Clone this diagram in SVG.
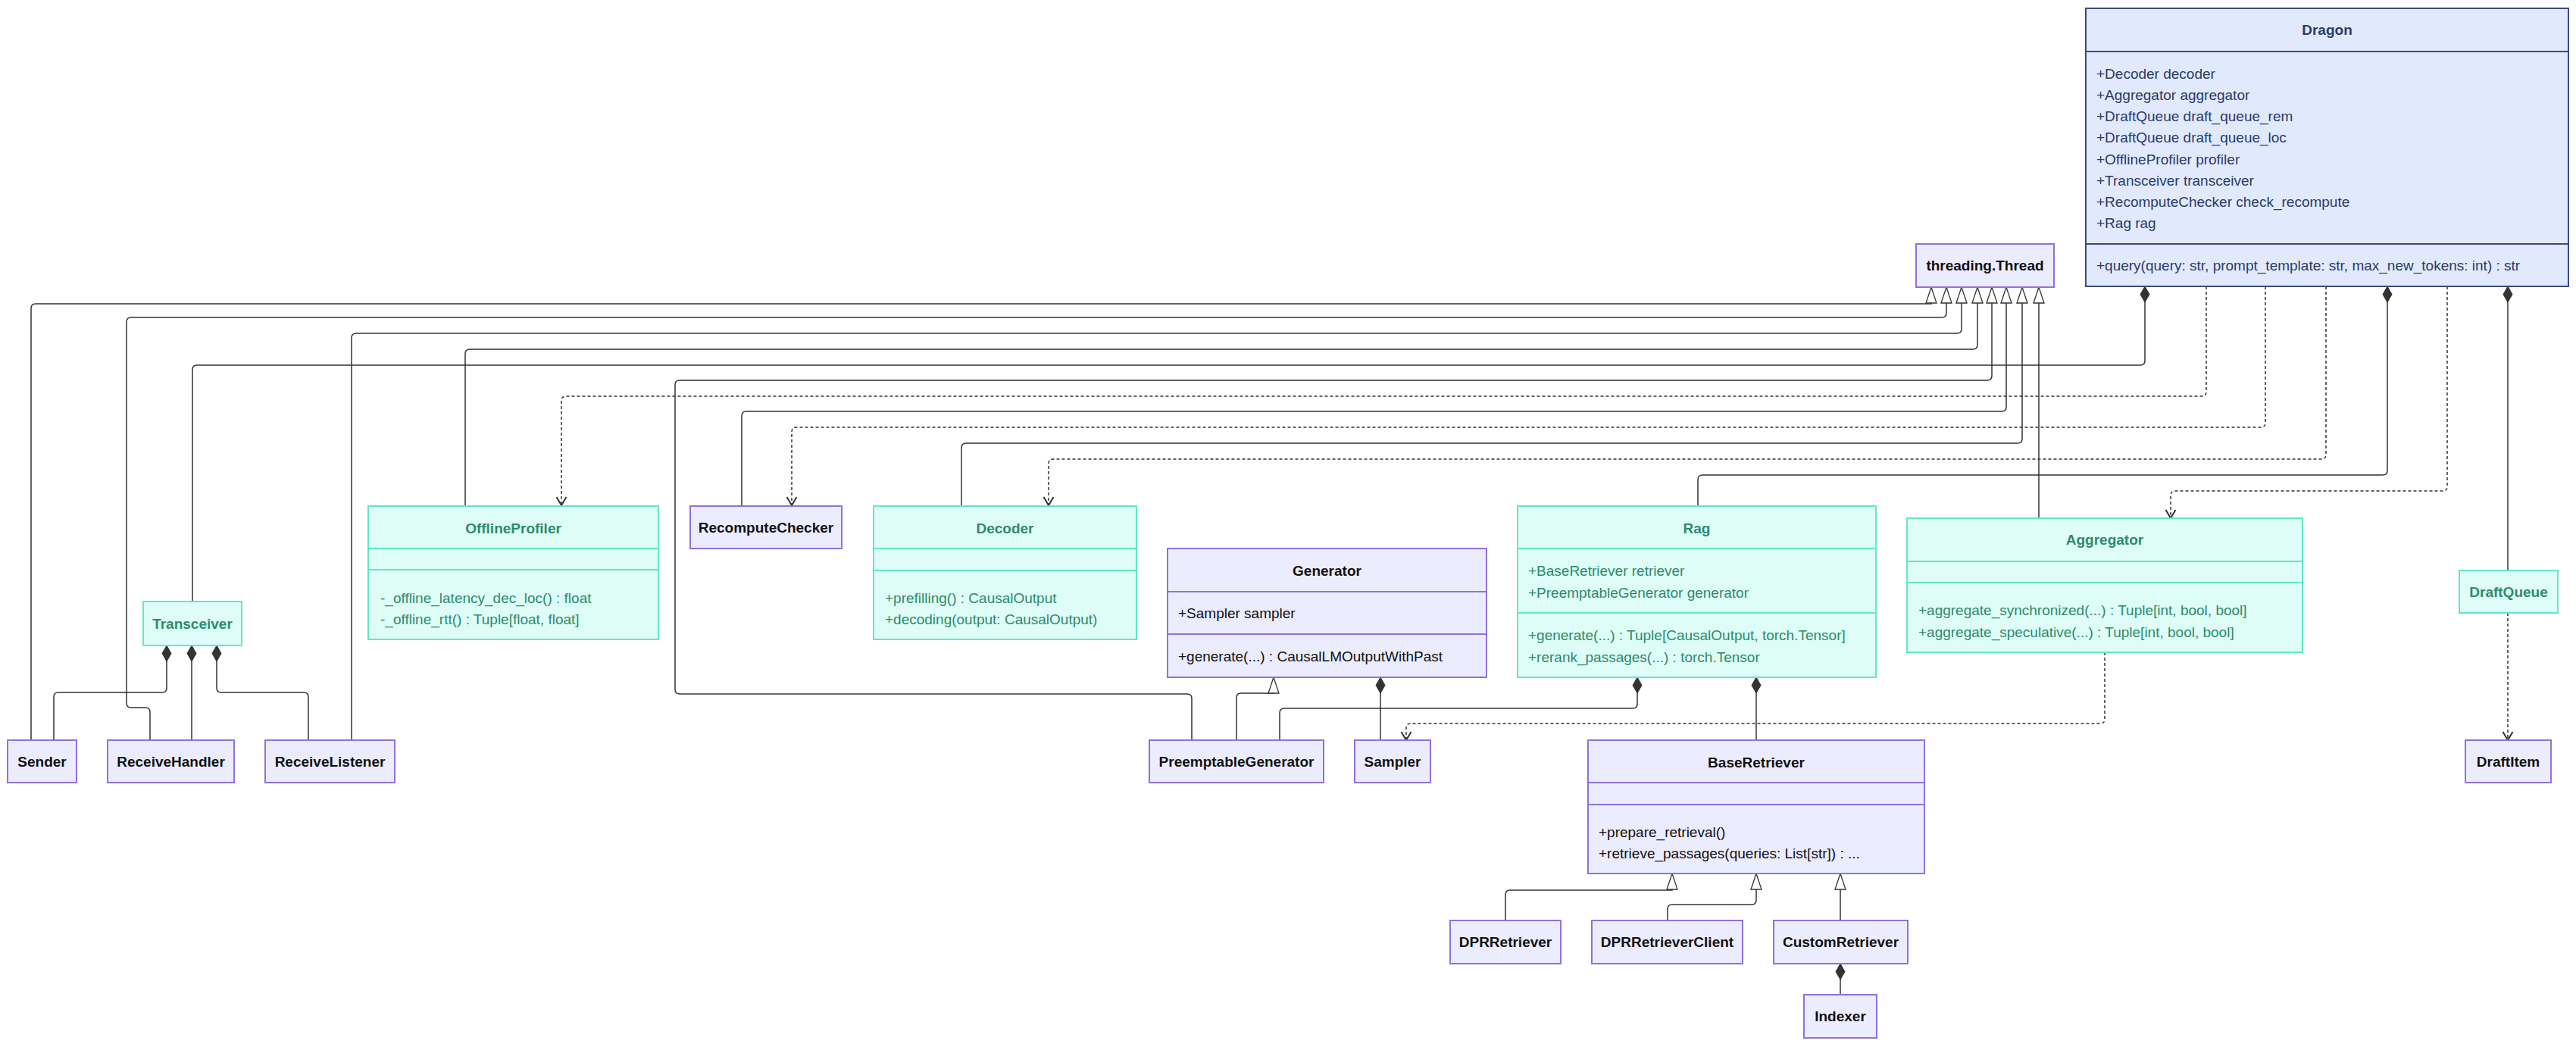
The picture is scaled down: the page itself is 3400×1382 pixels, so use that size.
<svg xmlns="http://www.w3.org/2000/svg" width="3400" height="1382" viewBox="0 0 3400 1382">
<style>
text{font-family:"Liberation Sans",Arial,sans-serif;font-size:19px}
.t{font-weight:bold;text-anchor:middle}
.m{text-anchor:start}
.blue rect,.blue line{fill:#e1e9fc;stroke:#3a4c7e;stroke-width:2}
.blue text{fill:#2b3b6b}
.teal rect,.teal line{fill:#ddfdf6;stroke:#62e8c9;stroke-width:2}
.teal text{fill:#2f8a6d}
.purple rect,.purple line{fill:#ececff;stroke:#9370db;stroke-width:2}
.purple text{fill:#111111}
.edges path{fill:none;stroke:#333333;stroke-width:1.5}
.edges .dep{stroke-dasharray:4,3}
.inh{marker-end:url(#tri)}
.comp{marker-start:url(#dia)}
.dep{marker-end:url(#arr)}
</style>
<defs>
<marker id="tri" markerUnits="userSpaceOnUse" viewBox="-23 -9 25 18" markerWidth="25" markerHeight="18" refX="0" refY="0" orient="auto">
<path d="M0,0 L-21,-7 L-21,7 Z" fill="#ffffff" stroke="#333333" stroke-width="1.3"/>
</marker>
<marker id="dia" markerUnits="userSpaceOnUse" viewBox="-1 -8 24 16" markerWidth="24" markerHeight="16" refX="0" refY="0" orient="auto">
<path d="M0,0 L10.5,-6 L21,0 L10.5,6 Z" fill="#333333" stroke="#333333" stroke-width="1"/>
</marker>
<marker id="arr" markerUnits="userSpaceOnUse" viewBox="-14 -9 16 18" markerWidth="16" markerHeight="18" refX="0" refY="0" orient="auto">
<path d="M-11,-6.5 L0,0 L-11,6.5" fill="none" stroke="#333333" stroke-width="2" stroke-dasharray="none"/>
</marker>
</defs>
<rect width="3400" height="1382" fill="#ffffff"/>

<g class="edges" id="connectors">
<path class="inh" d="M41,977 V407 Q41,401 47,401 H2549 V379"/>
<path class="inh" d="M198,977 V940 Q198,934 192,934 H173 Q167,934 167,928 V425 Q167,419 173,419 H2563 Q2569,419 2569,413 V379"/>
<path class="inh" d="M464,977 V446 Q464,440 470,440 H2583 Q2589,440 2589,434 V379"/>
<path class="inh" d="M614,668 V467 Q614,461 620,461 H2604 Q2610,461 2610,455 V379"/>
<path class="inh" d="M1573,977 V922 Q1573,916 1567,916 H897 Q891,916 891,910 V508 Q891,502 897,502 H2623 Q2629,502 2629,496 V379"/>
<path class="inh" d="M979,668 V549 Q979,543 985,543 H2642 Q2648,543 2648,537 V379"/>
<path class="inh" d="M1269,668 V591 Q1269,585 1275,585 H2663 Q2669,585 2669,579 V379"/>
<path class="inh" d="M2691,684 V379"/>
<path class="inh" d="M1632,977 V921 Q1632,915 1638,915 H1681 V894"/>
<path class="inh" d="M1987,1215 V1181 Q1987,1175 1993,1175 H2207 V1153"/>
<path class="inh" d="M2201,1215 V1200 Q2201,1194 2207,1194 H2312 Q2318,1194 2318,1188 V1153"/>
<path class="inh" d="M2429,1215 V1153"/>

<path class="comp" d="M2831,378 V476 Q2831,482 2825,482 H260 Q254,482 254,488 V794"/>
<path class="comp" d="M3151,378 V621 Q3151,627 3145,627 H2247 Q2241,627 2241,633 V668"/>
<path class="comp" d="M3310,378 V753"/>
<path class="comp" d="M220,852 V908 Q220,914 214,914 H77 Q71,914 71,920 V977"/>
<path class="comp" d="M253,852 V977"/>
<path class="comp" d="M286,852 V908 Q286,914 292,914 H401 Q407,914 407,920 V977"/>
<path class="comp" d="M2161,894 V929 Q2161,935 2155,935 H1695 Q1689,935 1689,941 V977"/>
<path class="comp" d="M2318,894 V977"/>
<path class="comp" d="M1822,894 V977"/>
<path class="comp" d="M2429,1272 V1313"/>

<path class="dep" d="M2912,378 V517 Q2912,523 2906,523 H747 Q741,523 741,529 V667"/>
<path class="dep" d="M2990,378 V558 Q2990,564 2984,564 H1051 Q1045,564 1045,570 V667"/>
<path class="dep" d="M3070,378 V600 Q3070,606 3064,606 H1390 Q1384,606 1384,612 V667"/>
<path class="dep" d="M3230,378 V642 Q3230,648 3224,648 H2871 Q2865,648 2865,654 V684"/>
<path class="dep" d="M2778,861 V949 Q2778,955 2772,955 H1862 Q1856,955 1856,961 V977"/>
<path class="dep" d="M3310,809 V977"/>
</g>

<g id="Dragon" class="blue">
<rect x="2753" y="11" width="637" height="367"/>
<line x1="2753" y1="68" x2="3390" y2="68"/>
<line x1="2753" y1="322" x2="3390" y2="322"/>
<text class="t" x="3071.5" y="46">Dragon</text>
<text class="m" x="2767" y="104">+Decoder decoder</text>
<text class="m" x="2767" y="132">+Aggregator aggregator</text>
<text class="m" x="2767" y="160">+DraftQueue draft_queue_rem</text>
<text class="m" x="2767" y="188">+DraftQueue draft_queue_loc</text>
<text class="m" x="2767" y="217">+OfflineProfiler profiler</text>
<text class="m" x="2767" y="245">+Transceiver transceiver</text>
<text class="m" x="2767" y="273">+RecomputeChecker check_recompute</text>
<text class="m" x="2767" y="301">+Rag rag</text>
<text class="m" x="2767" y="357">+query(query: str, prompt_template: str, max_new_tokens: int) : str</text>
</g>

<g id="threading.Thread" class="purple">
<rect x="2529" y="322" width="182" height="57"/>
<text class="t" x="2620" y="357">threading.Thread</text>
</g>

<g id="Aggregator" class="teal">
<rect x="2517" y="684" width="522" height="177"/>
<line x1="2517" y1="741" x2="3039" y2="741"/>
<line x1="2517" y1="769" x2="3039" y2="769"/>
<text class="t" x="2778" y="719">Aggregator</text>
<text class="m" x="2532" y="812">+aggregate_synchronized(...) : Tuple[int, bool, bool]</text>
<text class="m" x="2532" y="841">+aggregate_speculative(...) : Tuple[int, bool, bool]</text>
</g>

<g id="DraftQueue" class="teal">
<rect x="3246" y="753" width="130" height="56"/>
<text class="t" x="3311" y="788">DraftQueue</text>
</g>

<g id="DraftItem" class="purple">
<rect x="3254" y="977" width="113" height="56"/>
<text class="t" x="3310.5" y="1012">DraftItem</text>
</g>

<g id="Rag" class="teal">
<rect x="2003" y="668" width="473" height="226"/>
<line x1="2003" y1="724" x2="2476" y2="724"/>
<line x1="2003" y1="809" x2="2476" y2="809"/>
<text class="t" x="2239.5" y="704">Rag</text>
<text class="m" x="2017" y="760">+BaseRetriever retriever</text>
<text class="m" x="2017" y="789">+PreemptableGenerator generator</text>
<text class="m" x="2017" y="845">+generate(...) : Tuple[CausalOutput, torch.Tensor]</text>
<text class="m" x="2017" y="874">+rerank_passages(...) : torch.Tensor</text>
</g>

<g id="BaseRetriever" class="purple">
<rect x="2096" y="977" width="444" height="176"/>
<line x1="2096" y1="1033" x2="2540" y2="1033"/>
<line x1="2096" y1="1062" x2="2540" y2="1062"/>
<text class="t" x="2318" y="1013">BaseRetriever</text>
<text class="m" x="2110" y="1105">+prepare_retrieval()</text>
<text class="m" x="2110" y="1133">+retrieve_passages(queries: List[str]) : ...</text>
</g>

<g id="DPRRetriever" class="purple">
<rect x="1914" y="1215" width="146" height="57"/>
<text class="t" x="1987" y="1250">DPRRetriever</text>
</g>

<g id="DPRRetrieverClient" class="purple">
<rect x="2101" y="1215" width="199" height="57"/>
<text class="t" x="2200.5" y="1250">DPRRetrieverClient</text>
</g>

<g id="CustomRetriever" class="purple">
<rect x="2341" y="1215" width="177" height="57"/>
<text class="t" x="2429.5" y="1250">CustomRetriever</text>
</g>

<g id="Indexer" class="purple">
<rect x="2381" y="1313" width="96" height="57"/>
<text class="t" x="2429" y="1348">Indexer</text>
</g>

<g id="Generator" class="purple">
<rect x="1541" y="724" width="421" height="170"/>
<line x1="1541" y1="781" x2="1962" y2="781"/>
<line x1="1541" y1="837" x2="1962" y2="837"/>
<text class="t" x="1751.5" y="760">Generator</text>
<text class="m" x="1555" y="816">+Sampler sampler</text>
<text class="m" x="1555" y="873">+generate(...) : CausalLMOutputWithPast</text>
</g>

<g id="PreemptableGenerator" class="purple">
<rect x="1517" y="977" width="230" height="56"/>
<text class="t" x="1632" y="1012">PreemptableGenerator</text>
</g>

<g id="Sampler" class="purple">
<rect x="1788" y="977" width="100" height="56"/>
<text class="t" x="1838" y="1012">Sampler</text>
</g>

<g id="Decoder" class="teal">
<rect x="1153" y="668" width="347" height="176"/>
<line x1="1153" y1="724" x2="1500" y2="724"/>
<line x1="1153" y1="753" x2="1500" y2="753"/>
<text class="t" x="1326.5" y="704">Decoder</text>
<text class="m" x="1168" y="796">+prefilling() : CausalOutput</text>
<text class="m" x="1168" y="824">+decoding(output: CausalOutput)</text>
</g>

<g id="RecomputeChecker" class="purple">
<rect x="911" y="668" width="200" height="56"/>
<text class="t" x="1011" y="703">RecomputeChecker</text>
</g>

<g id="OfflineProfiler" class="teal">
<rect x="486" y="668" width="383" height="176"/>
<line x1="486" y1="724" x2="869" y2="724"/>
<line x1="486" y1="752" x2="869" y2="752"/>
<text class="t" x="677.5" y="704">OfflineProfiler</text>
<text class="m" x="502" y="796">-_offline_latency_dec_loc() : float</text>
<text class="m" x="502" y="824">-_offline_rtt() : Tuple[float, float]</text>
</g>

<g id="Transceiver" class="teal">
<rect x="189" y="794" width="130" height="58"/>
<text class="t" x="254" y="830">Transceiver</text>
</g>

<g id="Sender" class="purple">
<rect x="10" y="977" width="91" height="56"/>
<text class="t" x="55.5" y="1012">Sender</text>
</g>

<g id="ReceiveHandler" class="purple">
<rect x="142" y="977" width="167" height="56"/>
<text class="t" x="225.5" y="1012">ReceiveHandler</text>
</g>

<g id="ReceiveListener" class="purple">
<rect x="350" y="977" width="171" height="56"/>
<text class="t" x="435.5" y="1012">ReceiveListener</text>
</g>
</svg>
